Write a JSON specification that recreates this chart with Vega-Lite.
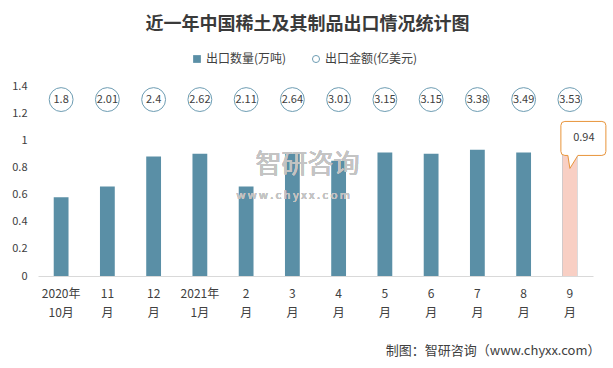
{
  "$schema": "https://vega.github.io/schema/vega-lite/v6.json",
  "width": 555,
  "height": 190,
  "autosize": {"type": "none"},
  "padding": {"left": 38, "top": 86, "right": 20, "bottom": 92},
  "background": "white",
  "config": {
    "view": {"stroke": null},
    "font": "Noto Sans CJK SC",
    "axisY": {"labelOverlap": false, "labelFlush": false, "domain": false, "ticks": false, "grid": false, "labelPadding": 11, "labelFontSize": 11, "labelColor": "#404040", "title": null}
  },
  "title": {
    "text": "近一年中国稀土及其制品出口情况统计图",
    "fontSize": 18,
    "fontWeight": "bold",
    "color": "#3a3a3a",
    "anchor": "middle",
    "frame": "group",
    "dx": -8,
    "offset": 10,
    "baseline": "middle"
  },
  "data": {
    "values": [
      {"month": "2020年|10月", "qty": 0.58, "amount": 1.8},
      {"month": "11|月", "qty": 0.66, "amount": 2.01},
      {"month": "12|月", "qty": 0.88, "amount": 2.4},
      {"month": "2021年|1月", "qty": 0.9, "amount": 2.62},
      {"month": "2|月", "qty": 0.66, "amount": 2.11},
      {"month": "3|月", "qty": 0.9, "amount": 2.64},
      {"month": "4|月", "qty": 0.85, "amount": 3.01},
      {"month": "5|月", "qty": 0.91, "amount": 3.15},
      {"month": "6|月", "qty": 0.9, "amount": 3.15},
      {"month": "7|月", "qty": 0.93, "amount": 3.38},
      {"month": "8|月", "qty": 0.91, "amount": 3.49},
      {"month": "9|月", "qty": 0.94, "amount": 3.53}
    ]
  },
  "encoding": {
    "x": {
      "field": "month",
      "type": "nominal",
      "sort": null,
      "scale": {"paddingInner": 0.68, "paddingOuter": 0.34},
      "axis": {
        "labelExpr": "split(datum.label, '|')",
        "labelAngle": 0,
        "labelFontSize": 12,
        "labelLineHeight": 19,
        "labelColor": "#404040",
        "labelPadding": 12,
        "ticks": false,
        "domainColor": "#D9D9D9",
        "title": "制图：智研咨询（www.chyxx.com）",
        "titleFontSize": 13,
        "titleFontWeight": "normal",
        "titleColor": "#404040",
        "titleAnchor": "end",
        "titleAlign": "right",
        "titleBaseline": "middle",
        "titleX": 562,
        "titleY": 74
      }
    }
  },
  "layer": [
    {
      "mark": {"type": "bar"},
      "encoding": {
        "y": {
          "field": "qty",
          "type": "quantitative",
          "scale": {"domain": [0, 1.4], "nice": false},
          "axis": {"values": [0, 0.2, 0.4, 0.6, 0.8, 1, 1.2, 1.4], "format": ".1~f"}
        },
        "color": {
          "datum": "出口数量(万吨)",
          "type": "nominal",
          "scale": {"range": ["#5A8FA6"]},
          "legend": {
            "orient": "none",
            "legendX": 153,
            "legendY": -33,
            "title": null,
            "labelFontSize": 12,
            "labelColor": "#404040",
            "symbolType": "square",
            "symbolSize": 60,
            "labelOffset": 3
          }
        }
      }
    },
    {
      "transform": [{"filter": "datum.month === '9|月'"}],
      "mark": {"type": "bar", "color": "#F8CFC4"},
      "encoding": {"y": {"field": "qty", "type": "quantitative", "axis": {"values": [0, 0.2, 0.4, 0.6, 0.8, 1, 1.2, 1.4], "format": ".1~f"}}}
    },
    {
      "mark": {"type": "text", "fontSize": 26, "color": "#C4C4C4", "align": "left", "dx": -37, "opacity": 0.6},
      "encoding": {
        "x": {"datum": "3|月"},
        "y": {"datum": 0.82, "type": "quantitative", "axis": {"values": [0, 0.2, 0.4, 0.6, 0.8, 1, 1.2, 1.4], "format": ".1~f"}},
        "text": {"value": "智研咨询"}
      }
    },
    {
      "mark": {"type": "text", "fontSize": 11, "color": "#C4C4C4", "align": "left", "dx": -56, "opacity": 0.6},
      "encoding": {
        "x": {"datum": "3|月"},
        "y": {"datum": 0.59, "type": "quantitative", "axis": {"values": [0, 0.2, 0.4, 0.6, 0.8, 1, 1.2, 1.4], "format": ".1~f"}},
        "text": {"value": "w  w  w  .  c  h  y  x  x  .  c  o  m"}
      }
    },
    {
      "mark": {"type": "point", "filled": false, "size": 570, "strokeWidth": 1, "color": "#6E9DB3", "opacity": 1},
      "encoding": {
        "y": {"datum": 1.3, "type": "quantitative", "axis": {"values": [0, 0.2, 0.4, 0.6, 0.8, 1, 1.2, 1.4], "format": ".1~f"}},
        "shape": {
          "datum": "出口金额(亿美元)",
          "type": "nominal",
          "scale": {"range": ["circle"]},
          "legend": {
            "orient": "none",
            "legendX": 272,
            "legendY": -33,
            "title": null,
            "labelFontSize": 12,
            "labelColor": "#404040",
            "symbolSize": 50,
            "symbolStrokeColor": "#6E9DB3",
            "symbolFillColor": "#ffffff",
            "symbolStrokeWidth": 1,
            "labelOffset": 3
          }
        }
      }
    },
    {
      "mark": {"type": "text", "fontSize": 11, "color": "#404040"},
      "encoding": {
        "y": {"datum": 1.3, "type": "quantitative", "axis": {"values": [0, 0.2, 0.4, 0.6, 0.8, 1, 1.2, 1.4], "format": ".1~f"}},
        "text": {"field": "amount", "type": "quantitative"}
      }
    },
    {
      "transform": [{"filter": "datum.month === '9|月'"}],
      "mark": {
        "type": "point",
        "shape": "M -5 -27 L 32 -27 Q 36 -27 36 -23 L 36 3 Q 36 7 32 7 L 8 7 L 0 20 L -2 7 L -5 7 Q -9 7 -9 3 L -9 -23 Q -9 -27 -5 -27 Z",
        "size": 4,
        "filled": true,
        "fill": "#ffffff",
        "stroke": "#E8943A",
        "strokeWidth": 1,
        "opacity": 1
      },
      "encoding": {"y": {"field": "qty", "type": "quantitative", "axis": {"values": [0, 0.2, 0.4, 0.6, 0.8, 1, 1.2, 1.4], "format": ".1~f"}}}
    },
    {
      "transform": [{"filter": "datum.month === '9|月'"}],
      "mark": {"type": "text", "fontSize": 11, "color": "#404040", "dx": 14, "dy": -10},
      "encoding": {
        "y": {"field": "qty", "type": "quantitative", "axis": {"values": [0, 0.2, 0.4, 0.6, 0.8, 1, 1.2, 1.4], "format": ".1~f"}},
        "text": {"field": "qty", "type": "quantitative"}
      }
    }
  ]
}
